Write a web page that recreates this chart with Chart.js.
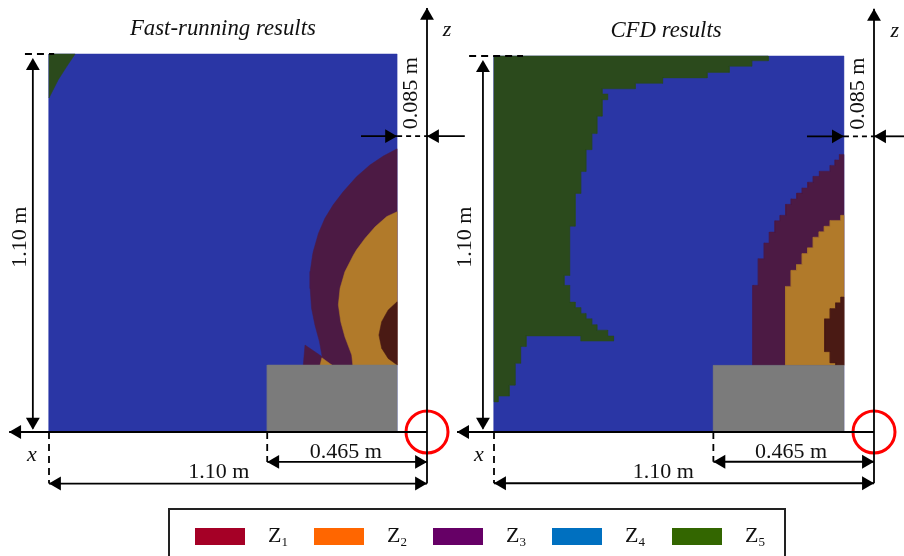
<!DOCTYPE html>
<html>
<head>
<meta charset="utf-8">
<title>Fast-running vs CFD zones</title>
<script src="https://cdn.jsdelivr.net/npm/chart.js@4/dist/chart.umd.min.js"></script>
<style>
  html, body { margin: 0; padding: 0; background: #fff; overflow: hidden; }
  #wrap { position: relative; width: 904px; height: 556px; }
  canvas { display: block; }
  #legend { position: absolute; left: 168px; top: 508px; width: 614px; height: 60px; border: 2px solid #222; box-sizing: content-box; font-family: "Liberation Serif", serif; color: #111; }
  #legend i { position: absolute; top: 18px; width: 50px; height: 17px; display: block; }
  #legend span { position: absolute; top: 12px; font-size: 22px; line-height: 26px; }
  #legend sub { font-size: 13px; line-height: 0; vertical-align: -4px; }
</style>
</head>
<body>
<div id="wrap">
  <canvas id="zones" width="904" height="556"></canvas>
  <div id="legend"></div>
</div>
<script>
// Zones, all outlines are [x, z] in mm measured from the z axis and the floor
const zoneNames = ['1', '2', '3', '4', '5'];
const zoneKey = ['#a50026', '#ff6600', '#660066', '#0070c0', '#336600'];

const blockOutline = [[465, 0], [87, 0], [87, 195], [465, 195], [465, 0]];
const roomOutline = [[1100, 0], [87, 0], [87, 1100], [1100, 1100], [1100, 0]];

const fastZ5 = [[1100, 1100], [1024, 1100], [1048, 1064], [1073, 1025], [1100, 972]];
const fastZ3 = [[87, 824], [127, 803], [166, 777], [205, 743], [244, 699], [273, 661], [297, 622], [316, 578], [331, 525],
  [333, 515], [340, 466], [340, 418], [336, 360], [326, 311], [313, 263], [305, 219], [355, 253], [360, 195], [87, 195]];
const fastZ2 = [[87, 641], [117, 627], [151, 597], [180, 564], [205, 530], [214, 515], [239, 466], [253, 418], [258, 370],
  [251, 321], [239, 277], [219, 224], [216, 195], [87, 195]];
const fastZ2Patch = [[306, 216], [277, 195], [311, 195]];
const fastZ1 = [[87, 379], [113, 355], [132, 321], [140, 282], [132, 244], [113, 214], [87, 195]];

const cfdZ5 = [[1100, 1100], [306, 1100], [306, 1086], [354, 1086], [354, 1070], [419, 1070], [419, 1052], [483, 1052],
  [483, 1036], [612, 1036], [612, 1020], [691, 1020], [691, 1004], [787, 1004], [787, 989], [771, 989], [771, 972],
  [787, 972], [787, 924], [802, 924], [802, 873], [817, 873], [817, 826], [834, 826], [834, 762], [849, 762],
  [849, 698], [865, 698], [865, 602], [881, 602], [881, 458], [897, 458], [897, 429], [881, 429], [881, 380],
  [865, 380], [865, 364], [849, 364], [849, 347], [834, 347], [834, 331], [817, 331], [817, 314], [802, 314],
  [802, 298], [771, 298], [771, 281], [754, 281], [754, 266], [849, 266], [849, 281], [1007, 281], [1007, 250],
  [1023, 250], [1023, 201], [1039, 201], [1039, 137], [1056, 137], [1056, 105], [1088, 105], [1088, 88], [1100, 88]];
const cfdZ3 = [[87, 812], [100, 812], [100, 796], [113, 796], [113, 780], [127, 780], [127, 763], [158, 763], [158, 748],
  [176, 748], [176, 731], [192, 731], [192, 714], [208, 714], [208, 699], [224, 699], [224, 682], [240, 682], [240, 666],
  [256, 666], [256, 634], [272, 634], [272, 618], [287, 618], [287, 585], [303, 585], [303, 553], [318, 553], [318, 507],
  [335, 507], [335, 429], [351, 429], [351, 195], [87, 195]];
const cfdZ2 = [[87, 634], [96, 634], [96, 619], [127, 619], [127, 602], [144, 602], [144, 586], [159, 586], [159, 570],
  [176, 570], [176, 539], [192, 539], [192, 522], [208, 522], [208, 490], [224, 490], [224, 473], [240, 473], [240, 426],
  [256, 426], [256, 195], [87, 195]];
const cfdZ1 = [[87, 395], [96, 395], [96, 378], [111, 378], [111, 361], [127, 361], [127, 331], [143, 331], [143, 235],
  [127, 235], [127, 202], [111, 202], [111, 195], [87, 195]];

// muted colours the scanned plots actually show
const fieldColors = { z1: '#4a1a14', z2: '#b17a2a', z3: '#4c1a44', z4: '#2a36a5', z5: '#2b4a1c', block: '#7b7b7b' };

const W = 904, H = 556;

function axesFor(axisPx, floorPx, pxPerMmX, pxPerMmZ) {
  return {
    x: { type: 'linear', display: false, reverse: true, min: (axisPx - W) / pxPerMmX, max: axisPx / pxPerMmX },
    z: { type: 'linear', display: false, min: (floorPx - H) / pxPerMmZ, max: floorPx / pxPerMmZ }
  };
}
const fastAxes = axesFor(427, 432, 378 / 1100, 378 / 1100);
const cfdAxes = axesFor(874, 432, 380 / 1100, 376 / 1100);

const datasets = [];

function toPoints(list) {
  return list.map(p => ({ x: p[0], y: p[1] }));
}

function area(panel, list, color) {
  datasets.push({
    xAxisID: panel + 'X', yAxisID: panel + 'Z',
    data: toPoints(list.concat([list[0]])),
    showLine: true, fill: 'shape', backgroundColor: color, borderColor: color, borderWidth: 0.5, pointRadius: 0
  });
}

function rule(panel, list, dash, width) {
  datasets.push({
    xAxisID: panel + 'X', yAxisID: panel + 'Z',
    data: toPoints(list),
    showLine: true, fill: false, borderColor: '#000', borderWidth: width || 1.8, borderDash: dash || [], pointRadius: 0
  });
}

// rot is degrees clockwise from up, the tip lands 8px past the given point
function head(panel, x, z, rot) {
  datasets.push({
    xAxisID: panel + 'X', yAxisID: panel + 'Z',
    data: [{ x: x, y: z }],
    showLine: false, pointStyle: 'triangle', rotation: rot, pointRadius: 8,
    backgroundColor: '#000', borderColor: '#000', borderWidth: 0
  });
}

function annotate(panel, o) {
  const tick = [7, 5];
  // red corner marker goes under the axes
  datasets.push({
    xAxisID: panel + 'X', yAxisID: panel + 'Z',
    data: [{ x: 0, y: 0 }],
    showLine: false, pointStyle: 'circle', pointRadius: 21, borderWidth: 3,
    borderColor: '#ff0000', backgroundColor: 'rgba(0,0,0,0)'
  });
  rule(panel, [[0, -150], [0, o.zTip]]);
  head(panel, 0, o.zTip - 23, 0);
  rule(panel, [[0, 0], [o.xTip, 0]]);
  head(panel, o.xTip - 23, 0, 270);
  // height dimension
  rule(panel, [[o.dimX, 10], [o.dimX, 1080]]);
  head(panel, o.dimX, 1065, 0);
  head(panel, o.dimX, 30, 180);
  rule(panel, [[o.topDash[0], 1100], [o.topDash[1], 1100]], tick);
  // 0.085 m gap
  rule(panel, [[o.gapLeft, o.gapZ], [87, o.gapZ]]);
  head(panel, 110, o.gapZ, 90);
  rule(panel, [[87, o.gapZ], [0, o.gapZ]], [5, 4]);
  rule(panel, [[0, o.gapZ], [o.gapRight, o.gapZ]]);
  head(panel, -23, o.gapZ, 270);
  // floor dimensions
  rule(panel, [[1100, 0], [1100, -150]], tick);
  rule(panel, [[465, 0], [465, -87]], tick);
  rule(panel, [[465, -87], [0, -87]]);
  head(panel, 442, -87, 270);
  head(panel, 23, -87, 90);
  rule(panel, [[1100, -150], [0, -150]]);
  head(panel, 1077, -150, 270);
  head(panel, 23, -150, 90);
}

// paint order, first one ends up at the back
area('fast', roomOutline, fieldColors.z4);
area('fast', fastZ5, fieldColors.z5);
area('fast', fastZ3, fieldColors.z3);
area('fast', fastZ2, fieldColors.z2);
area('fast', fastZ2Patch, fieldColors.z2);
area('fast', fastZ1, fieldColors.z1);
area('fast', blockOutline, fieldColors.block);

area('cfd', roomOutline, fieldColors.z4);
area('cfd', cfdZ5, fieldColors.z5);
area('cfd', cfdZ3, fieldColors.z3);
area('cfd', cfdZ2, fieldColors.z2);
area('cfd', cfdZ1, fieldColors.z1);
area('cfd', blockOutline, fieldColors.block);

annotate('fast', { zTip: 1234, xTip: 1216, dimX: 1147, topDash: [1170, 1085], gapLeft: 192, gapRight: -110, gapZ: 861 });
annotate('cfd', { zTip: 1238, xTip: 1207, dimX: 1132, topDash: [1172, 1016], gapLeft: 194, gapRight: -90, gapZ: 865 });

// labels sit in the same mm coordinates as everything else
const labels = [
  { panel: 'fast', text: 'Fast-running results', x: 594, z: 1173, italic: true, size: 22.8 },
  { panel: 'fast', text: 'z', x: -58, z: 1170, italic: true },
  { panel: 'fast', text: 'x', x: 1150, z: -67, italic: true },
  { panel: 'fast', text: '1.10 m', x: 1185, z: 567, rotate: true },
  { panel: 'fast', text: '0.085 m', x: 47, z: 986, rotate: true },
  { panel: 'fast', text: '0.465 m', x: 236, z: -59 },
  { panel: 'fast', text: '1.10 m', x: 606, z: -117 },
  { panel: 'cfd', text: 'CFD results', x: 602, z: 1173, italic: true, size: 22.8 },
  { panel: 'cfd', text: 'z', x: -60, z: 1172, italic: true },
  { panel: 'cfd', text: 'x', x: 1144, z: -67, italic: true },
  { panel: 'cfd', text: '1.10 m', x: 1182, z: 570, rotate: true },
  { panel: 'cfd', text: '0.085 m', x: 46, z: 990, rotate: true },
  { panel: 'cfd', text: '0.465 m', x: 240, z: -59 },
  { panel: 'cfd', text: '1.10 m', x: 610, z: -117 }
];

const labelPlugin = {
  id: 'figureLabels',
  afterDatasetsDraw(chart) {
    const ctx = chart.ctx;
    labels.forEach(l => {
      const px = chart.scales[l.panel + 'X'].getPixelForValue(l.x);
      const py = chart.scales[l.panel + 'Z'].getPixelForValue(l.z);
      ctx.save();
      ctx.translate(px, py);
      if (l.rotate) ctx.rotate(-Math.PI / 2);
      ctx.font = (l.italic ? 'italic ' : '') + (l.size || 22) + 'px "Liberation Serif"';
      ctx.fillStyle = '#111';
      ctx.textAlign = 'center';
      ctx.textBaseline = 'middle';
      ctx.fillText(l.text, 0, 0);
      ctx.restore();
    });
  }
};

new Chart(document.getElementById('zones').getContext('2d'), {
  type: 'scatter',
  data: { datasets: datasets.reverse() },
  options: {
    responsive: false,
    animation: false,
    // point radii must not shrink the plot, the scales span the whole canvas
    layout: { padding: 0, autoPadding: false },
    elements: { line: { tension: 0 } },
    scales: { fastX: fastAxes.x, fastZ: fastAxes.z, cfdX: cfdAxes.x, cfdZ: cfdAxes.z },
    plugins: { legend: { display: false }, tooltip: { enabled: false }, filler: { propagate: false } }
  },
  plugins: [labelPlugin]
});

// Legend
const swatchLeft = [25, 144, 263, 382, 502];
const legend = document.getElementById('legend');
zoneNames.forEach((n, i) => {
  const swatch = document.createElement('i');
  swatch.style.left = swatchLeft[i] + 'px';
  swatch.style.background = zoneKey[i];
  legend.appendChild(swatch);
  const name = document.createElement('span');
  name.style.left = (swatchLeft[i] + 73) + 'px';
  name.innerHTML = 'Z<sub>' + n + '</sub>';
  legend.appendChild(name);
});
</script>
</body>
</html>
